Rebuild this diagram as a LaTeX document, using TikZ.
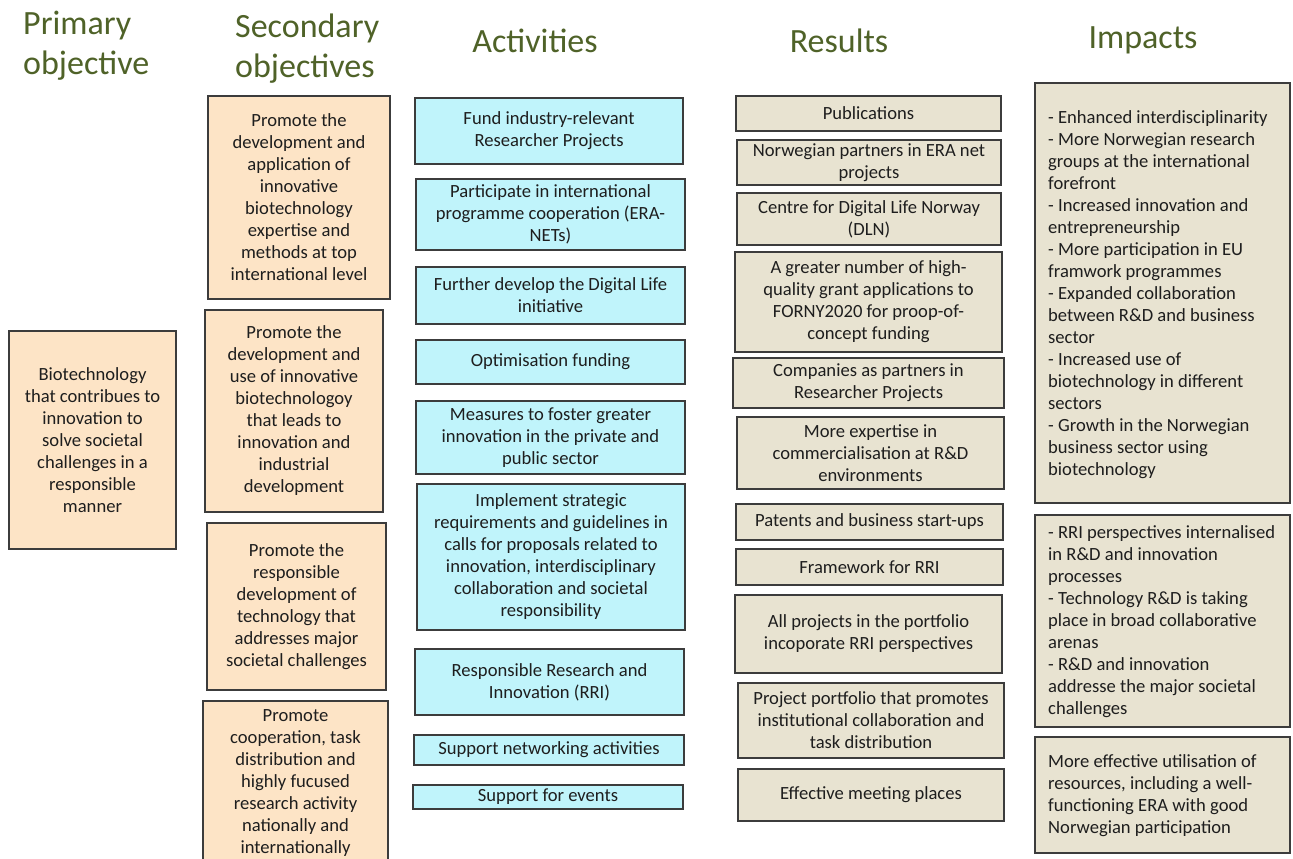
\documentclass[tikz,border=0pt]{standalone}
\usepackage{fontspec}
\setmainfont{Carlito}
\definecolor{peach}{HTML}{FDE4C6}
\definecolor{cyanbox}{HTML}{C0F4FB}
\definecolor{tanbox}{HTML}{E8E3D1}
\definecolor{headc}{HTML}{4F6228}
\definecolor{boxline}{HTML}{3C3C3C}
\definecolor{txt}{HTML}{1E1E1E}
\begin{document}
\begin{tikzpicture}[x=1pt,y=-1pt,
  area/.style n args={4}{minimum width={#3-#1}, minimum height={#4-#2},
    at={({(#1+#3)/2},{(#2+#4)/2})}},
  box/.style={draw=boxline, line width=1.2pt, inner sep=0pt, align=center,
    font=\fontsize{18.6}{22}\selectfont, text=txt},
  obox/.style={box, fill=peach},
  abox/.style={box, fill=cyanbox},
  rbox/.style={box, fill=tanbox},
  itext/.style={inner sep=0pt, align=left, anchor=west,
    font=\fontsize{18.6}{22}\selectfont, text=txt},
  head/.style={font=\fontsize{34}{40}\selectfont, text=headc, inner sep=0pt}]
\useasboundingbox (0,0) rectangle (1293,859);

% headings
\node[head, align=left, anchor=west] (hprim) at (23,46) {Primary\\objective};
\node[head, align=left, anchor=west] (hsec) at (235,48.5) {Secondary\\objectives};
\node[head] (hact) at (535,41) {Activities};
\node[head] (hres) at (839,41) {Results};
\node[head] (himp) at (1143,40) {Impacts};

% primary objective
\node[obox, area={9}{331}{176}{549}] (p1) {Biotechnology\\that contribues to\\innovation to\\solve societal\\challenges in a\\responsible\\manner};

% secondary objectives
\node[obox, area={208}{96}{390}{299}] (s1) {Promote the\\development and\\application of\\innovative\\biotechnology\\expertise and\\methods at top\\international level};
\node[obox, area={205}{310}{383}{512}] (s2) {Promote the\\development and\\use of innovative\\biotechnologoy\\that leads to\\innovation and\\industrial\\development};
\node[obox, area={207}{523}{386}{690}] (s3) {Promote the\\responsible\\development of\\technology that\\addresses major\\societal challenges};
\node[obox, area={203}{701}{388}{866}] (s4) {Promote\\cooperation, task\\distribution and\\highly fucused\\research activity\\nationally and\\internationally};

% activities
\node[abox, area={415}{98}{683}{164}] (a1) {Fund industry-relevant\\Researcher Projects};
\node[abox, area={416}{179}{685}{250}] (a2) {Participate in international\\programme cooperation (ERA-\\NETs)};
\node[abox, area={416}{267}{685}{324}] (a3) {Further develop the Digital Life\\initiative};
\node[abox, area={416}{340}{685}{384}] (a4) {Optimisation funding};
\node[abox, area={416}{401}{685}{474}] (a5) {Measures to foster greater\\innovation in the private and\\public sector};
\node[abox, area={417}{484}{685}{630}] (a6) {Implement strategic\\requirements and guidelines in\\calls for proposals related to\\innovation, interdisciplinary\\collaboration and societal\\responsibility};
\node[abox, area={415}{649}{684}{715}] (a7) {Responsible Research and\\Innovation (RRI)};
\node[abox, area={414}{735}{684}{765}] (a8) {Support networking activities};
\node[abox, area={413}{785}{683}{809}] (a9) {Support for events};

% results
\node[rbox, area={736}{96}{1001}{131}] (r1) {Publications};
\node[rbox, area={737}{140}{1001}{185}] (r2) {Norwegian partners in ERA net\\projects};
\node[rbox, area={737}{193}{1001}{245}] (r3) {Centre for Digital Life Norway\\(DLN)};
\node[rbox, area={735}{252}{1002}{352}] (r4) {A greater number of high-\\quality grant applications to\\FORNY2020 for proop-of-\\concept funding};
\node[rbox, area={733}{358}{1004}{408}] (r5) {Companies as partners in\\Researcher Projects};
\node[rbox, area={737}{417}{1004}{489}] (r6) {More expertise in\\commercialisation at R\&D\\environments};
\node[rbox, area={736}{504}{1003}{540}] (r7) {Patents and business start-ups};
\node[rbox, area={736}{549}{1003}{585}] (r8) {Framework for RRI};
\node[rbox, area={735}{595}{1002}{673}] (r9) {All projects in the portfolio\\incoporate RRI perspectives};
\node[rbox, area={738}{683}{1004}{758}] (r10) {Project portfolio that promotes\\institutional collaboration and\\task distribution};
\node[rbox, area={738}{769}{1004}{821}] (r11) {Effective meeting places};

% impacts
\node[rbox, area={1035}{83}{1290}{503}] (i1) {};
\node[itext] (i1t) at (1048,295) {- Enhanced interdisciplinarity\\- More Norwegian research\\groups at the international\\forefront\\- Increased innovation and\\entrepreneurship\\- More participation in EU\\framwork programmes\\- Expanded collaboration\\between R\&D and business\\sector\\- Increased use of\\biotechnology in different\\sectors\\- Growth in the Norwegian\\business sector using\\biotechnology};
\node[rbox, area={1035}{515}{1290}{727}] (i2) {};
\node[itext] (i2t) at (1048,622) {- RRI perspectives internalised\\in R\&D and innovation\\processes\\- Technology R\&D is taking\\place in broad collaborative\\arenas\\- R\&D and innovation\\addresse the major societal\\challenges};
\node[rbox, area={1035}{737}{1290}{853}] (i3) {};
\node[itext] (i3t) at (1048,796) {More effective utilisation of\\resources, including a well-\\functioning ERA with good\\Norwegian participation};
\end{tikzpicture}
\end{document}
